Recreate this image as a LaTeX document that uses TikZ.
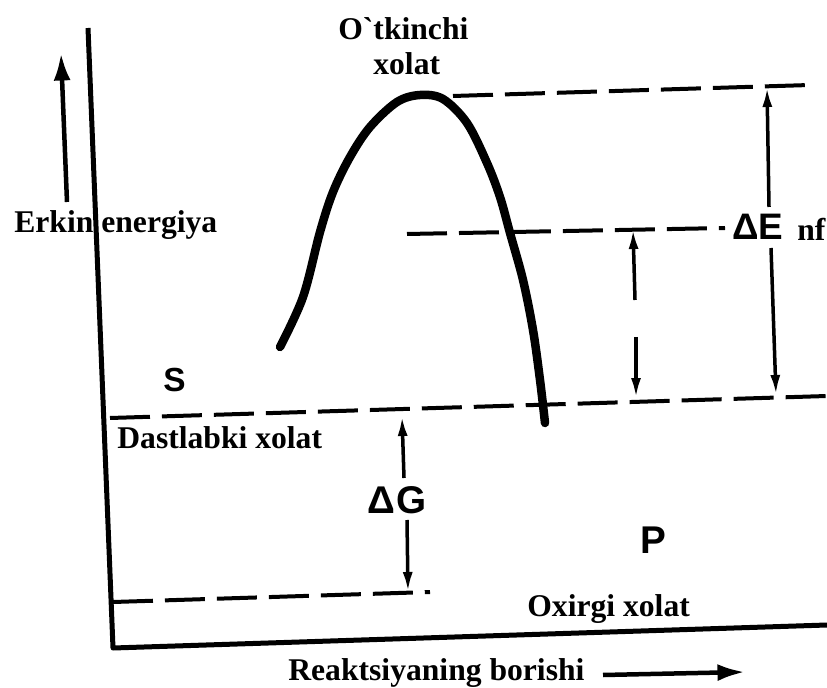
\documentclass[tikz,border=0pt]{standalone}
\usepackage{fontspec}
\setmainfont{Liberation Serif}
\newfontfamily\letterfont{Liberation Sans}
\usetikzlibrary{arrows.meta,positioning}
\tikzset{
  caption/.style={inner sep=0pt, anchor=base west, font=\fontsize{18}{20}\selectfont\bfseries},
  symb/.style={inner sep=0pt, anchor=base west, font=\fontsize{21}{24}\selectfont\letterfont\bfseries},
  axisline/.style={line width=1mm, line join=round},
  levelline/.style={line width=0.8mm, dash pattern=on 0.8cm off 0.24cm},
  barrier/.style={line width=1.7mm, line cap=round},
  dimarrow/.style={-{Latex[length=4mm,width=2mm]}, line width=0.7mm},
  bigarrow/.style={-{Latex[length=5.5mm,width=3.4mm]}, line width=0.9mm}
}

\begin{document}
\begin{tikzpicture}[x=0.02cm,y=-0.02cm]
  \useasboundingbox (0,0) rectangle (827,688);

  % axes
  \coordinate (ytop) at (88,28);
  \coordinate (origin) at (113,648);
  \coordinate (xend) at (827,625);
  \draw[axisline] (ytop) -- (origin) -- (xend);

  \coordinate (upTail) at (67,202);
  \coordinate (upTip) at (61,53);
  \draw[bigarrow] (upTail) -- (upTip);
  \node[caption] (energy) at (14,233) {Erkin energiya};

  \node[caption] (progress) at (288,680) {Reaktsiyaning borishi};
  \coordinate (rightTail) at (603,675);
  \coordinate (rightTip) at (745,672);
  \draw[bigarrow] (rightTail) -- (rightTip);

  % energy levels
  \coordinate (topL) at (453,96);  \coordinate (topR) at (810,85);
  \coordinate (midL) at (407,234); \coordinate (midR) at (725,228);
  \coordinate (subL) at (110,418); \coordinate (subR) at (827,396);
  \coordinate (prodL) at (113,602); \coordinate (prodR) at (430,592);
  \draw[levelline] (topL) -- (topR);
  \draw[levelline] (midL) -- (midR);
  \draw[levelline] (subL) -- (subR);
  \draw[levelline] (prodL) -- (prodR);

  % barrier
  \draw[barrier] plot[smooth, tension=0.55] coordinates {(280,347) (303,297) (320,232) (333,192) (350,157) (370,127) (397,102) (420,95) (443,99) (467,123) (487,163) (500,197) (510,233) (523,280) (533,330) (540,380) (545,423)};

  % labels
  \node[caption] (trans1) at (338,40) {O\textasciigrave tkinchi};
  \node[caption] (trans2) at (373,75) {xolat};
  \node[caption] (initial) at (117,448) {Dastlabki xolat};
  \node[caption] (final) at (527,616) {Oxirgi xolat};
  \node[symb, font=\fontsize{19}{22}\selectfont\letterfont\bfseries] (subst) at (163,392) {S};
  \node[symb, font=\fontsize{22}{24}\selectfont\letterfont\bfseries] (prod) at (640,553) {P};
  \node[symb, font=\fontsize{22}{24}\selectfont\letterfont\bfseries] (dG) at (367,513) {Δ\kern1pt G};
  \node[symb] (dE) at (732,240) {ΔE};
  \node[caption] (nf) at (797,241) {nf};

  % dimension arrows
  \coordinate (eUpFrom) at (769,207);  \coordinate (eUpTo) at (767,87);
  \coordinate (eDnFrom) at (771,248);  \coordinate (eDnTo) at (776,395);
  \draw[dimarrow] (eUpFrom) -- (eUpTo);
  \draw[dimarrow] (eDnFrom) -- (eDnTo);

  \coordinate (iUpFrom) at (635,300);  \coordinate (iUpTo) at (633,229);
  \coordinate (iDnFrom) at (636,337);  \coordinate (iDnTo) at (636,398);
  \draw[dimarrow] (iUpFrom) -- (iUpTo);
  \draw[dimarrow] (iDnFrom) -- (iDnTo);

  \coordinate (gUpFrom) at (404,478);  \coordinate (gUpTo) at (402,416);
  \coordinate (gDnFrom) at (407,520);  \coordinate (gDnTo) at (408,592);
  \draw[dimarrow] (gUpFrom) -- (gUpTo);
  \draw[dimarrow] (gDnFrom) -- (gDnTo);
\end{tikzpicture}
\end{document}
